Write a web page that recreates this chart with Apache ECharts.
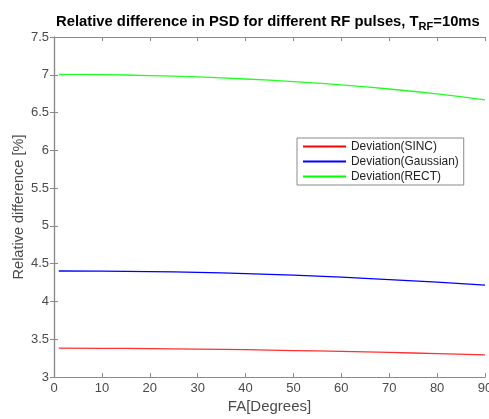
<!DOCTYPE html>
<html>
<head>
<meta charset="utf-8">
<script src="https://cdn.jsdelivr.net/npm/echarts@6/dist/echarts.min.js"></script>
<style>
  html, body { margin: 0; padding: 0; background: #fff; }
  #chart { width: 489px; height: 419px; }
</style>
</head>
<body>
<div id="chart"></div>
<script>
// Flip angle samples (degrees)
const flipAngles = [1, 10, 20, 30, 40, 50, 60, 70, 80, 90];
// Relative PSD difference [%] per RF pulse shape
const sincDev     = [3.382, 3.380, 3.376, 3.370, 3.361, 3.350, 3.339, 3.325, 3.310, 3.292];
const gaussianDev = [4.403, 4.400, 4.395, 4.385, 4.369, 4.348, 4.321, 4.290, 4.255, 4.215];
const rectDev     = [7.006, 7.001, 6.990, 6.971, 6.944, 6.909, 6.866, 6.812, 6.746, 6.668];
const xTicks = { min: 0, max: 90, step: 10 };
const yTicks = { min: 3, max: 7.5, step: 0.5 };

const pairs = ys => flipAngles.map((x, i) => [x, ys[i]]);

const axisGrey = '#8a8a8a';
const textGrey = '#4a4a4a';
const font = 'Liberation Sans, Arial, sans-serif';

const chart = echarts.init(document.getElementById('chart'), null, { renderer: 'canvas' });

const baseX = {
  type: 'value', min: xTicks.min, max: xTicks.max, interval: xTicks.step,
  axisLine: { show: true, lineStyle: { color: axisGrey, width: 1.2 } },
  axisTick: { show: true, inside: true, length: 4, lineStyle: { color: axisGrey } },
  splitLine: { show: false }
};
const baseY = {
  type: 'value', min: yTicks.min, max: yTicks.max, interval: yTicks.step,
  axisLine: { show: true, lineStyle: { color: axisGrey, width: 1.2 } },
  axisTick: { show: true, inside: true, length: 4, lineStyle: { color: axisGrey } },
  splitLine: { show: false }
};

chart.setOption({
  animation: false,
  backgroundColor: '#fff',
  title: {
    text: '{b|Relative difference in PSD for different RF pulses, T}{s|RF}{b|=10ms}',
    left: 56, top: 11, padding: 0,
    textStyle: {
      rich: {
        b: { fontFamily: font, fontSize: 14.8, fontWeight: 'bold', color: '#000' },
        s: { fontFamily: font, fontSize: 11, fontWeight: 'bold', color: '#000', padding: [10, 0, 0, 0] }
      }
    }
  },
  grid: { left: 54, right: 4, top: 37, bottom: 42, containLabel: false, outerBoundsMode: 'none' },
  legend: {
    orient: 'vertical',
    left: 297, top: 138,
    padding: [2, 5, 2, 6],
    itemWidth: 43, itemHeight: 2, itemGap: 2,
    borderColor: '#8a8a8a', borderWidth: 1, borderRadius: 0,
    backgroundColor: '#fff',
    icon: 'rect',
    textStyle: { fontFamily: font, fontSize: 11.9, color: '#222', padding: [0, 0, 0, 0], lineHeight: 13 },
    data: ['Deviation(SINC)', 'Deviation(Gaussian)', 'Deviation(RECT)']
  },
  xAxis: [
    Object.assign({}, baseX, {
      position: 'bottom',
      name: 'FA[Degrees]', nameLocation: 'middle', nameGap: 22, nameMoveOverlap: false,
      nameTextStyle: { fontFamily: font, fontSize: 15, color: textGrey },
      axisLabel: { fontFamily: font, fontSize: 13, color: textGrey, margin: 5 }
    }),
    Object.assign({}, baseX, { position: 'top', axisLabel: { show: false } })
  ],
  yAxis: [
    Object.assign({}, baseY, {
      position: 'left',
      name: 'Relative difference [%]', nameLocation: 'middle', nameGap: 28, nameMoveOverlap: false,
      nameTextStyle: { fontFamily: font, fontSize: 14.5, color: textGrey },
      axisLabel: { fontFamily: font, fontSize: 13, color: textGrey, margin: 5 }
    }),
    Object.assign({}, baseY, { position: 'right', axisLabel: { show: false } })
  ],
  series: [
    { name: 'Deviation(SINC)', type: 'line', data: pairs(sincDev), smooth: true, showSymbol: false,
      color: '#ff0000', lineStyle: { color: '#ff3030', width: 1.3 } },
    { name: 'Deviation(Gaussian)', type: 'line', data: pairs(gaussianDev), smooth: true, showSymbol: false,
      color: '#0000ff', lineStyle: { color: '#0000ff', width: 1.3 } },
    { name: 'Deviation(RECT)', type: 'line', data: pairs(rectDev), smooth: true, showSymbol: false,
      color: '#00ff00', lineStyle: { color: '#20ff20', width: 1.3 } }
  ]
});
</script>
</body>
</html>
